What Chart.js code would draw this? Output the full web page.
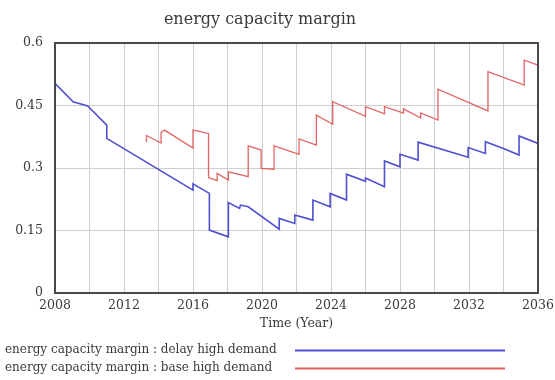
<!DOCTYPE html>
<html>
<head>
<meta charset="utf-8">
<script src="https://cdn.jsdelivr.net/npm/chart.js@4/dist/chart.umd.min.js"></script>
<style>
  html, body { margin: 0; padding: 0; background: #ffffff; }
  canvas { display: block; }
</style>
</head>
<body>
<canvas id="chart" width="555" height="380"></canvas>
<script>
// Chart text
const chartTitle = 'energy capacity margin';
const xAxisTitle = 'Time (Year)';
const seriesNames = [
  'energy capacity margin : delay high demand',
  'energy capacity margin : base high demand'
];

// Series: "delay high demand" (repeated years mark the step jumps)
const delayYears = [2008, 2009.05, 2009.9, 2011.0, 2011.0, 2016.0, 2016.0, 2016.95, 2016.95, 2018.05,
  2018.05, 2018.7, 2018.75, 2019.2, 2021.0, 2021.0, 2021.9, 2021.9, 2022.95, 2022.95,
  2023.95, 2023.95, 2024.9, 2024.9, 2026.0, 2026.0, 2027.1, 2027.1, 2028.0, 2028.0,
  2029.05, 2029.05, 2031.95, 2031.95, 2032.95, 2032.95, 2034.0, 2034.9, 2034.9, 2036];
const delayValues = [0.503, 0.459, 0.449, 0.403, 0.371, 0.247, 0.262, 0.239, 0.151, 0.135,
  0.217, 0.203, 0.211, 0.207, 0.153, 0.179, 0.167, 0.187, 0.175, 0.223,
  0.207, 0.239, 0.223, 0.285, 0.268, 0.276, 0.255, 0.317, 0.303, 0.333,
  0.319, 0.362, 0.326, 0.349, 0.335, 0.363, 0.347, 0.331, 0.377, 0.359];

// Series: "base high demand"
const baseYears = [2013.3, 2013.3, 2014.15, 2014.15, 2014.35, 2016.0, 2016.0, 2016.9, 2016.9, 2017.4,
  2017.4, 2018.05, 2018.05, 2019.2, 2019.2, 2019.95, 2019.95, 2020.7, 2020.7, 2022.15,
  2022.15, 2023.15, 2023.15, 2024.1, 2024.1, 2026.0, 2026.0, 2027.1, 2027.1, 2028.2,
  2028.2, 2029.2, 2029.2, 2030.2, 2030.2, 2033.1, 2033.1, 2035.2, 2035.2, 2036];
const baseValues = [0.362, 0.378, 0.360, 0.385, 0.391, 0.348, 0.391, 0.383, 0.277, 0.270,
  0.287, 0.271, 0.291, 0.279, 0.353, 0.343, 0.299, 0.297, 0.353, 0.333,
  0.370, 0.355, 0.427, 0.405, 0.459, 0.424, 0.447, 0.430, 0.447, 0.432,
  0.442, 0.420, 0.432, 0.415, 0.489, 0.437, 0.531, 0.499, 0.559, 0.547];

// Axis ticks
const xGridYears = [2008, 2010, 2012, 2014, 2016, 2018, 2020, 2022, 2024, 2026, 2028, 2030, 2032, 2034, 2036];
const xLabelYears = [2008, 2012, 2016, 2020, 2024, 2028, 2032, 2036];
const yTickValues = [0, 0.15, 0.3, 0.45, 0.6];
const yTickLabels = ['0', '0.15', '0.3', '0.45', '0.6'];

const seriesColors = ['#4f4fd2', '#e26464'];
const serif = "'DejaVu Serif', 'Liberation Serif', serif";
const textColor = '#3a3a3a';

function toPoints(xs, ys) {
  return xs.map((x, i) => ({ x: x, y: ys[i] }));
}

// Title, frame around the plotting area, and legend rows under the axis
const decorPlugin = {
  id: 'decor',
  afterDatasetsDraw(chart) {
    const a = chart.chartArea;
    const ctx = chart.ctx;
    ctx.save();
    ctx.strokeStyle = '#4a4a4a';
    ctx.lineWidth = 2;
    ctx.strokeRect(a.left, a.top, a.right - a.left, a.bottom - a.top);
    ctx.restore();
  },
  afterDraw(chart) {
    const ctx = chart.ctx;
    ctx.save();
    ctx.fillStyle = textColor;
    ctx.textBaseline = 'middle';
    ctx.textAlign = 'center';
    ctx.font = '16px ' + serif;
    ctx.fillText(chartTitle, 260, 20);

    ctx.font = '12px ' + serif;
    ctx.textAlign = 'left';
    chart.data.datasets.forEach((ds, i) => {
      const y = 350 + i * 18;
      ctx.fillStyle = textColor;
      ctx.fillText(ds.label, 5, y);
      ctx.strokeStyle = ds.borderColor;
      ctx.lineWidth = 2;
      ctx.beginPath();
      ctx.moveTo(295, y + 0.5);
      ctx.lineTo(505, y + 0.5);
      ctx.stroke();
    });
    ctx.restore();
  }
};

new Chart(document.getElementById('chart'), {
  type: 'line',
  data: {
    datasets: [
      {
        label: seriesNames[0],
        data: toPoints(delayYears, delayValues),
        borderColor: seriesColors[0],
        borderWidth: 1.6,
        pointRadius: 0,
        tension: 0,
        fill: false
      },
      {
        label: seriesNames[1],
        data: toPoints(baseYears, baseValues),
        borderColor: seriesColors[1],
        borderWidth: 1.3,
        pointRadius: 0,
        tension: 0,
        fill: false
      }
    ]
  },
  options: {
    responsive: false,
    animation: false,
    devicePixelRatio: 1,
    layout: { padding: { top: 43, left: 0, right: 0, bottom: 45 } },
    plugins: {
      legend: { display: false },
      tooltip: { enabled: false },
      title: { display: false }
    },
    scales: {
      x: {
        type: 'linear',
        min: 2008,
        max: 2036,
        afterBuildTicks: (s) => { s.ticks = xGridYears.map(v => ({ value: v })); },
        afterFit: (s) => { s.height = 42; s.paddingLeft = 0; s.paddingRight = 17; },
        ticks: {
          autoSkip: false,
          maxRotation: 0,
          padding: 5,
          color: textColor,
          font: { family: serif, size: 12.5 },
          callback: (v) => xLabelYears.includes(v) ? String(v) : ''
        },
        grid: { color: '#cfcfcf', lineWidth: 1, drawTicks: false },
        border: { display: false },
        title: {
          display: true,
          text: xAxisTitle,
          color: textColor,
          font: { family: serif, size: 12.5 },
          padding: { top: 0, bottom: 4 }
        }
      },
      y: {
        type: 'linear',
        min: 0,
        max: 0.6,
        afterBuildTicks: (s) => { s.ticks = yTickValues.map(v => ({ value: v })); },
        afterFit: (s) => { s.width = 55; s.paddingTop = 0; s.paddingBottom = 0; },
        ticks: {
          padding: 12,
          color: textColor,
          font: { family: serif, size: 12.5 },
          callback: (v, i) => yTickLabels[i]
        },
        grid: { color: '#cfcfcf', lineWidth: 1, drawTicks: false },
        border: { display: false }
      }
    }
  },
  plugins: [decorPlugin]
});
</script>
</body>
</html>
